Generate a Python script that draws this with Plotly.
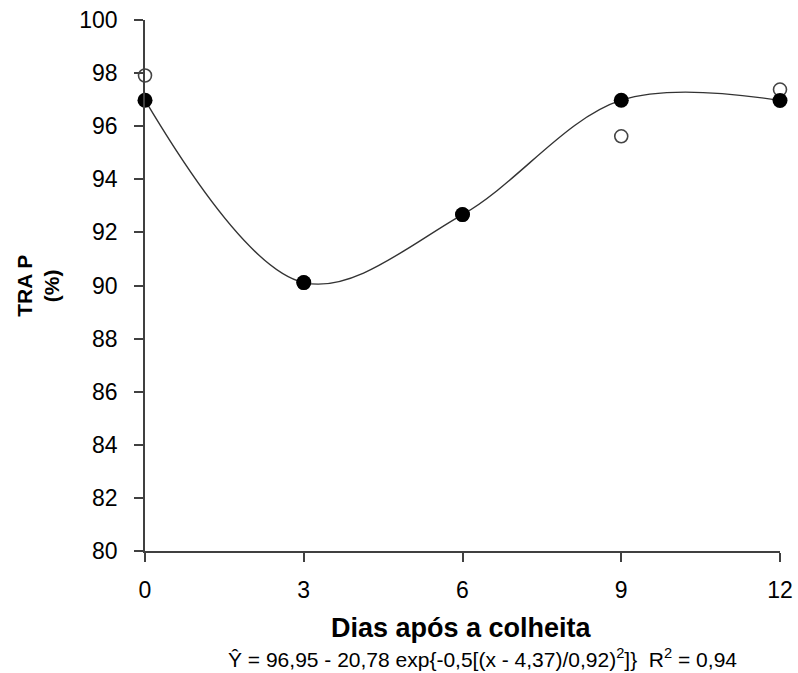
import plotly.graph_objects as go

days = [0, 3, 6, 9, 12]
trap_filled = [96.98, 90.11, 92.67, 96.98, 96.97]
trap_open = [97.91, 90.11, 92.67, 95.62, 97.38]
y_ticks = list(range(80, 101, 2))
x_ticks = [0, 3, 6, 9, 12]

fig = go.Figure()
fig.add_trace(go.Scatter(
    x=days, y=trap_filled, mode="lines",
    line=dict(shape="spline", smoothing=1.0, color="#333333", width=1.4),
    cliponaxis=False, showlegend=False, hoverinfo="skip"))
fig.add_trace(go.Scatter(
    x=days, y=trap_open, mode="markers",
    marker=dict(symbol="circle", size=13, color="white",
                line=dict(color="#444444", width=1.6)),
    cliponaxis=False, showlegend=False))
fig.add_trace(go.Scatter(
    x=days, y=trap_filled, mode="markers",
    marker=dict(symbol="circle", size=15, color="black",
                line=dict(color="black", width=0)),
    cliponaxis=False, showlegend=False))

axis_common = dict(showgrid=False, zeroline=False, showline=True,
                   linecolor="#404040", linewidth=1.5, ticks="outside",
                   ticklen=9, tickwidth=1.5, tickcolor="#404040",
                   automargin=False, ticklabeloverflow="allow",
                   tickfont=dict(family="Liberation Sans, Arial", size=23, color="black"))

fig.update_xaxes(range=[0, 12], tickvals=x_ticks, ticktext=[str(v) for v in x_ticks],
                 ticklabelstandoff=9, **axis_common)
fig.update_yaxes(range=[80, 100], tickvals=y_ticks, ticktext=[str(v) for v in y_ticks],
                 ticklabelstandoff=12, **axis_common)

fig.update_layout(
    width=798, height=673,
    margin=dict(l=145, r=18, t=20, b=122),
    plot_bgcolor="white", paper_bgcolor="white",
    annotations=[
        dict(text="<b>Dias após a colheita</b>", xref="paper", yref="paper",
             x=0.499, y=0, yanchor="middle", yshift=-77, showarrow=False,
             font=dict(family="Liberation Sans, Arial", size=27, color="black")),
        dict(text="Ŷ = 96,95 - 20,78 exp{-0,5[(x - 4,37)/0,92)<sup>2</sup>]}  R<sup>2</sup> = 0,94",
             xref="paper", yref="paper", x=0.532, y=0, yanchor="middle", yshift=-107,
             showarrow=False,
             font=dict(family="Liberation Sans, Arial", size=21, color="black")),
        dict(text="<b>TRA P</b>", xref="paper", yref="paper",
             x=-0.19, y=0.5, xanchor="center", yanchor="middle", textangle=-90,
             showarrow=False,
             font=dict(family="Liberation Sans, Arial", size=21, color="black")),
        dict(text="<b>(%)</b>", xref="paper", yref="paper",
             x=-0.147, y=0.5, xanchor="center", yanchor="middle", textangle=-90,
             showarrow=False,
             font=dict(family="Liberation Sans, Arial", size=21, color="black")),
    ],
)

fig.write_html("out.html")
